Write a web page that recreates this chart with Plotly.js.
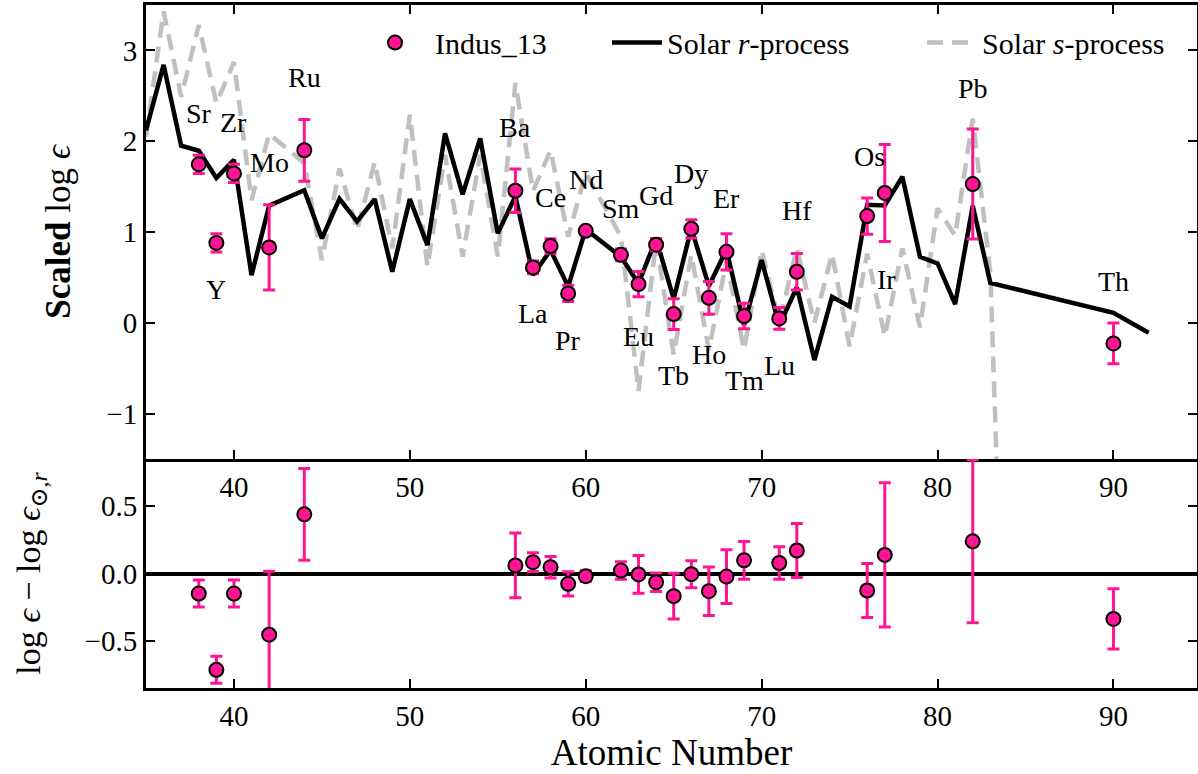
<!DOCTYPE html>
<html>
<head>
<meta charset="utf-8">
<script src="https://cdn.plot.ly/plotly-3.0.1.min.js"></script>
<style>html,body{margin:0;padding:0;background:#fff;}#plot{width:1198px;height:774px;}</style>
</head>
<body>
<div id="plot"></div>
<script>
// ---- Data ----
const elements = ['Sr','Y','Zr','Mo','Ru','Ba','La','Ce','Pr','Nd','Sm','Eu','Gd','Tb','Dy','Ho','Er','Tm','Lu','Hf','Os','Ir','Pb','Th'];
const starZ    = [38,39,40,42,44,56,57,58,59,60,62,63,64,65,66,67,68,69,71,72,76,77,82,90];
const starLogEps = [1.745,0.88,1.645,0.83,1.90,1.454,0.61,0.845,0.324,1.013,0.749,0.426,0.86,0.096,1.035,0.275,0.782,0.074,0.048,0.562,1.175,1.43,1.528,-0.227];
const starErr  = [0.10,0.10,0.10,0.47,0.34,0.24,0.07,0.08,0.09,0.04,0.065,0.14,0.068,0.17,0.10,0.18,0.20,0.14,0.12,0.20,0.20,0.535,0.605,0.224];
const residual = [-0.149,-0.715,-0.149,-0.454,0.439,0.06,0.084,0.047,-0.077,-0.02,0.022,-0.007,-0.065,-0.168,-0.005,-0.131,-0.023,0.098,0.078,0.171,-0.126,0.138,0.239,-0.337];

const rZ   = [35,36,37,38,39,40,41,42,44,45,46,47,48,49,50,51,52,53,54,55,56,57,58,59,60,62,63,64,65,66,67,68,69,70,71,72,73,74,75,76,77,78,79,80,81,82,83,90,92];
const rVal = [2.12,2.84,1.95,1.895,1.595,1.794,0.525,1.29,1.46,0.93,1.366,1.117,1.362,0.562,1.362,0.856,2.086,1.414,2.03,0.985,1.394,0.526,0.80,0.40,1.03,0.727,0.433,0.925,0.264,1.04,0.406,0.805,-0.024,0.69,-0.03,0.391,-0.41,0.286,0.18,1.30,1.292,1.608,0.727,0.654,0.206,1.289,0.44,0.11,-0.11];

const sZ   = [35,36,37,38,39,40,41,42,44,45,46,47,48,49,50,51,52,53,54,55,56,57,58,59,60,62,63,64,65,66,67,68,69,70,71,72,73,74,75,76,77,78,79,80,81,82,83,90];
const sVal = [2.05,3.43,2.49,3.28,2.42,2.87,1.35,2.08,1.76,0.69,1.70,1.02,1.77,0.82,2.29,0.62,1.85,0.73,1.85,0.73,2.64,1.45,1.90,0.95,1.65,0.95,-0.75,0.90,-0.35,0.75,-0.30,0.68,-0.30,0.80,0.0,0.82,0.0,0.76,-0.26,0.76,-0.15,0.82,-0.05,1.26,0.96,2.25,0.55,-40];

const xTicks = [40,50,60,70,80,90];

// ---- label placement (pixel offsets from each point) ----
const labelShift = {Sr:[0,51],Y:[0,-47],Zr:[0,51],Mo:[0,85],Ru:[0,73],Ba:[0,63],La:[0,-46],Ce:[0,49],Pr:[0,-47],Nd:[0,51],Sm:[0,46],Eu:[0,-52],Gd:[0,49],Tb:[0,-61],Dy:[0,55],Ho:[0,-57],Er:[0,53],Tm:[0,-64],Lu:[0,-47],Hf:[0,61],Os:[2,60],Ir:[2,-87],Pb:[0,96],Th:[0,62]};

const PINK = '#ff1493';
const FONT = 'Liberation Serif, DejaVu Serif, serif';

const traces = [
  {x:sZ, y:sVal, xaxis:'x', yaxis:'y', mode:'lines', name:'Solar <i>s</i>-process', legend:'legend3',
   line:{color:'#c0c0c0', width:4.5, dash:'16px,9px'}},
  {x:rZ, y:rVal, xaxis:'x', yaxis:'y', mode:'lines', name:'Solar <i>r</i>-process', legend:'legend2',
   line:{color:'black', width:4.5}},
  {x:starZ, y:starLogEps, xaxis:'x', yaxis:'y', mode:'markers', name:'Indus_13', legend:'legend',
   marker:{color:PINK, size:14, line:{color:'black', width:2}},
   error_y:{type:'data', array:starErr, visible:true, color:PINK, thickness:3, width:6}},
  {x:starZ, y:residual, xaxis:'x2', yaxis:'y2', mode:'markers', showlegend:false,
   marker:{color:PINK, size:14, line:{color:'black', width:2}},
   error_y:{type:'data', array:starErr, visible:true, color:PINK, thickness:3, width:6}}
];

const annotations = elements.map((el,i)=>({
  x:starZ[i], y:starLogEps[i], xref:'x', yref:'y', text:el, showarrow:false,
  xshift:labelShift[el][0], yshift:labelShift[el][1],
  font:{family:FONT, size:28, color:'black'}
}));

const axisCommon = {
  showline:true, linewidth:3, linecolor:'black', mirror:'allticks',
  ticks:'inside', ticklen:9, tickwidth:2, tickcolor:'black',
  showgrid:false, zeroline:false, tickfont:{family:FONT, size:29, color:'black'}
};

const split = (688-459)/683;
const legendCommon = {orientation:'h', yanchor:'middle', y:0.945, xanchor:'left', itemwidth:50,
                      font:{family:FONT, size:30, color:'black'}, bgcolor:'rgba(0,0,0,0)', borderwidth:0};

const layout = {
  width:1198, height:774,
  margin:{l:146, r:1, t:5, b:86},
  paper_bgcolor:'white', plot_bgcolor:'white',
  font:{family:FONT, color:'black'},
  showlegend:true,
  legend: Object.assign({}, legendCommon, {x:(355-146)/1051, itemwidth:70}),
  legend2:Object.assign({}, legendCommon, {x:(607-146)/1051}),
  legend3:Object.assign({}, legendCommon, {x:(922-146)/1051}),
  xaxis:Object.assign({}, axisCommon, {domain:[0,1], anchor:'y', range:[35,94.75], tickvals:xTicks, ticklabelstandoff:0}),
  yaxis:Object.assign({}, axisCommon, {domain:[split,1], anchor:'x', range:[-1.5,3.5], tickvals:[-1,0,1,2,3],
          title:{text:'<b>Scaled</b> log <i>ϵ</i>', font:{family:FONT, size:35}, standoff:26}}),
  xaxis2:Object.assign({}, axisCommon, {domain:[0,1], anchor:'y2', range:[35,94.75], tickvals:xTicks, mirror:false, ticklabelstandoff:0,
          title:{text:'Atomic Number', font:{family:FONT, size:37}, standoff:2}}),
  yaxis2:Object.assign({}, axisCommon, {domain:[0,split], anchor:'x2', range:[-0.85,0.85], tickvals:[-0.5,0,0.5], ticktext:['−0.5','0.0','0.5'],
          zeroline:true, zerolinecolor:'black', zerolinewidth:4,
          title:{text:'log <i>ϵ</i> − log <i>ϵ</i><sub>⊙,<i>r</i></sub>', font:{family:FONT, size:34}, standoff:34}}),
  annotations:annotations
};

Plotly.newPlot('plot', traces, layout, {displayModeBar:false, staticPlot:true});
</script>
</body>
</html>
